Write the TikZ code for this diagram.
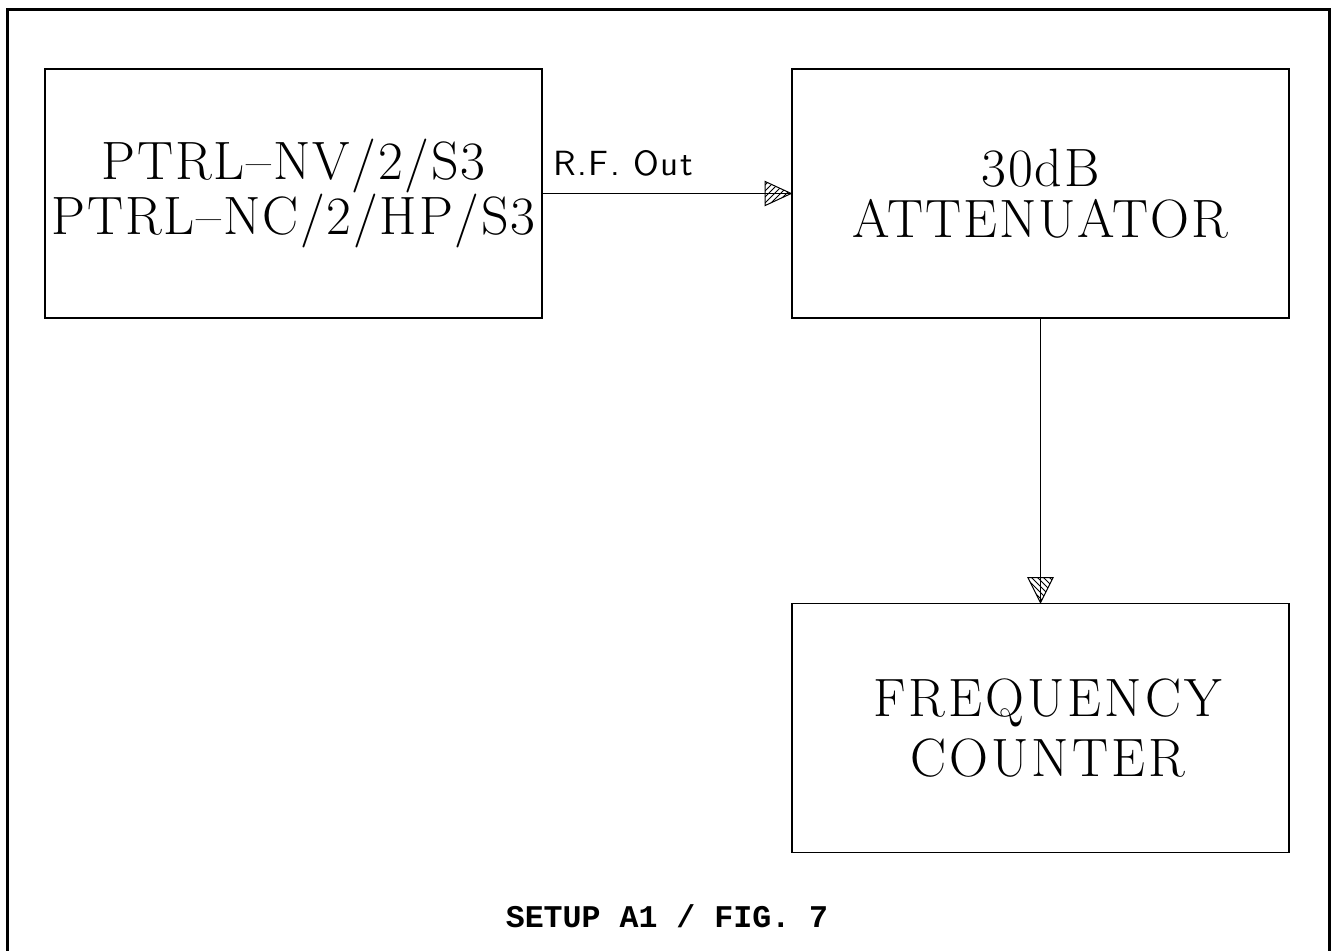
\documentclass[tikz,border=0pt]{standalone}
\usepackage{fontspec}
\newfontfamily\labelmono{Liberation Mono}
\newfontfamily\boxfontA{lmroman17-regular.otf}[LetterSpace=3.3]
\newfontfamily\boxfontB{lmroman17-regular.otf}[LetterSpace=5.7]
\newfontfamily\wirefont{lmsans10-regular.otf}[LetterSpace=4.5]
\usetikzlibrary{calc,patterns}
\tikzset{
  blockbox/.style={draw, line width=0.8pt, minimum width=248.5pt, minimum height=124.5pt, inner sep=0pt, align=center},
  blocktext/.style={font=\boxfontA\fontsize{27}{25.5}\selectfont},
  wire/.style={line width=0.6pt},
  hatchtip/.style={draw, line width=0.5pt, pattern=north east lines},
  hatchtipv/.style={draw, line width=0.5pt, pattern=north west lines},
}
\begin{document}
\begin{tikzpicture}[x=0.5pt,y=-0.5pt]
\useasboundingbox (0,0) rectangle (1334,950);
\draw[line width=1.5pt] (7,956) -- (7,9) -- (1329,9) -- (1329,956);
\node[blockbox, blocktext] (b1) at (293.5,193.5) {PTRL–NV/2/S3\\PTRL–NC/2/HP/S3};
\node[blockbox, blocktext] (b2) at (1040.5,193.5) {30dB\\ATTENUATOR};
\node[blockbox, font=\boxfontB\fontsize{27}{30}\selectfont] (b3) at (1040.5,728) {\hspace*{7pt}FREQUENCY\\\hspace*{7pt}COUNTER};
% horizontal connector
\draw[wire] (b1.east) -- (b2.west);
\coordinate (t1) at (b2.west);
\draw[hatchtip] (t1) -- ($(t1)+(-26,-12)$) -- ($(t1)+(-26,12)$) -- cycle;
\node[anchor=base west, inner sep=0pt, font=\wirefont\fontsize{17.5}{19}\selectfont] (rf) at (553,175) {R.F. Out};
% vertical connector
\draw[wire] (b2.south) -- (b3.north);
\coordinate (t2) at (b3.north);
\draw[hatchtipv] (t2) -- ($(t2)+(-12.5,-25)$) -- ($(t2)+(12.5,-25)$) -- cycle;
\node[anchor=base, inner sep=0pt, font=\labelmono\bfseries\fontsize{15.8}{18}\selectfont] (cap) at (667,927) {SETUP A1 / FIG. 7};
\end{tikzpicture}
\end{document}
